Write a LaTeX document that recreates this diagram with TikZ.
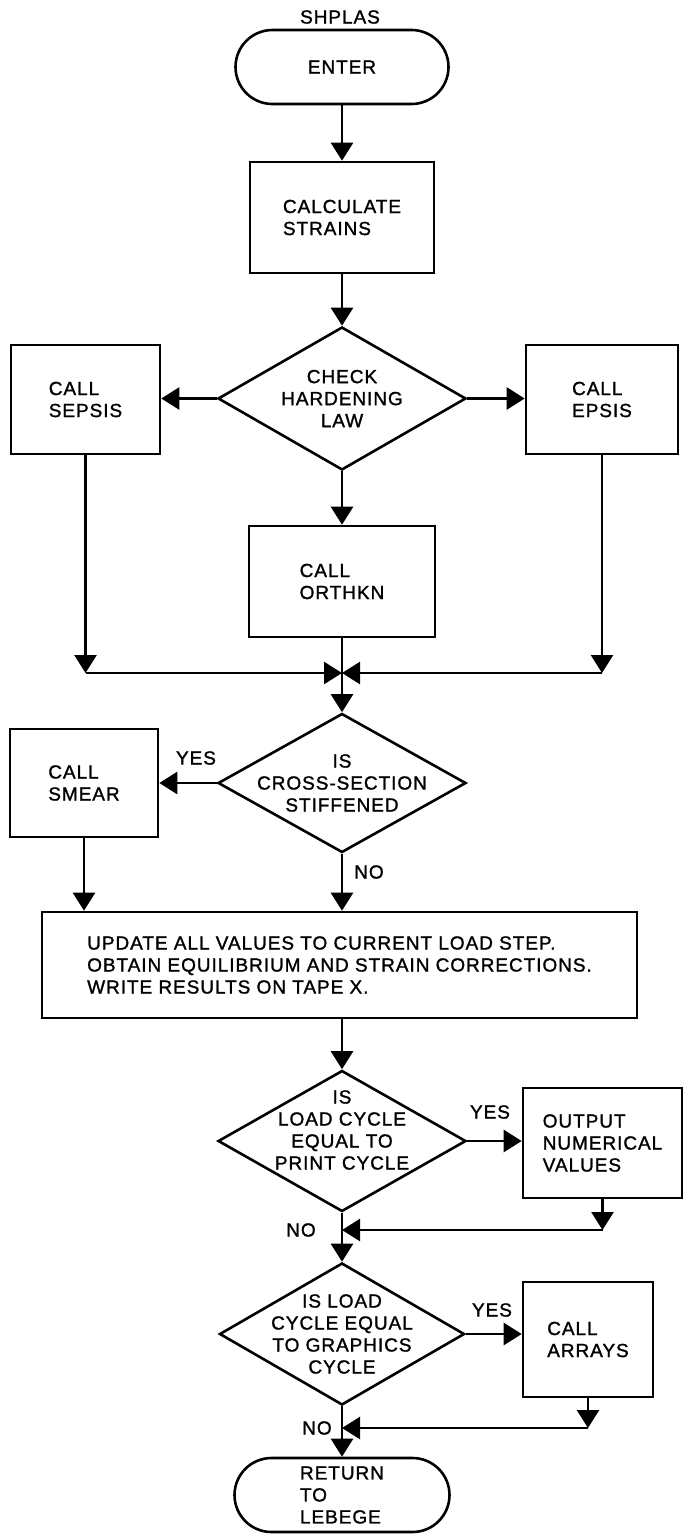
\documentclass[tikz,border=0pt]{standalone}
\usepackage{fontspec}
\setmainfont{Liberation Sans}[LetterSpace=5, FakeBold=1.3]
\usetikzlibrary{arrows.meta}
\usetikzlibrary{shapes.geometric}

\tikzset{
  box/.style={draw, rectangle, line width=2.6pt, align=left},
  term/.style={draw, rectangle, rounded corners=37pt, line width=2.6pt, minimum height=74pt, align=left},
  decision/.style={draw, diamond, line width=2.6pt, minimum width=248pt, inner sep=0pt},
  flow/.style={line width=2.6pt, -{Triangle[length=18pt,width=22pt]}},
  note/.style={inner sep=0pt}
}

\begin{document}
\begin{tikzpicture}[x=1pt, y=-1pt, font=\fontsize{19}{22}\selectfont]
    \useasboundingbox (0,0) rectangle (684,1534);

    % top part
    \node[note] (title) at (340,17) {SHPLAS};
    \node[term, minimum width=213pt] (enter) at (342,67) {ENTER};
    \node[box, minimum width=184pt, minimum height=111pt] (calc) at (342,217.5) {CALCULATE\\STRAINS};
    \node[decision, minimum height=143pt, label={[align=center]center:{CHECK\\HARDENING\\LAW}}] (hard) at (342,398.5) {};
    \node[box, minimum width=149pt, minimum height=109pt] (sepsis) at (85.5,399.5) {CALL\\SEPSIS};
    \node[box, minimum width=152pt, minimum height=109pt] (epsis) at (602,399.5) {CALL\\EPSIS};
    \node[box, minimum width=186pt, minimum height=111pt] (orthkn) at (342,581.5) {CALL\\ORTHKN};
    \coordinate (jn) at (342,673);

    \draw[flow] (enter) -- (calc);
    \draw[flow] (calc) -- (hard);
    \draw[flow] (hard.west) -- (hard.west -| sepsis.east);
    \draw[flow] (hard.east) -- (hard.east -| epsis.west);
    \draw[flow] (hard) -- (orthkn);
    \draw[flow] (sepsis) -- (sepsis |- jn);
    \draw[flow] (sepsis |- jn) -- (jn);
    \draw[flow] (epsis) -- (epsis |- jn);
    \draw[flow] (epsis |- jn) -- (jn);

    % stiffened?
    \node[decision, minimum height=139pt, label={[align=center]center:{IS\\CROSS-SECTION\\STIFFENED}}] (cross) at (342,783) {};
    \node[box, minimum width=148pt, minimum height=108pt] (smear) at (84,783) {CALL\\SMEAR};
    \node[box, minimum width=595pt, minimum height=106pt] (update) at (339.5,965)
        {UPDATE ALL VALUES TO CURRENT LOAD STEP.\\OBTAIN EQUILIBRIUM AND STRAIN CORRECTIONS.\\WRITE RESULTS ON TAPE X.};

    \draw[flow] (orthkn) -- (cross);
    \draw[flow] (cross.west) -- (cross.west -| smear.east);
    \node[note] (yes1) at (196,758) {YES};
    \draw[flow] (smear) -- (smear |- update.north);
    \draw[flow] (cross) -- (cross |- update.north);
    \node[note] (no1) at (369,872) {NO};

    % print cycle
    \node[decision, minimum height=141pt, label={[align=center, yshift=11pt]center:{IS\\LOAD CYCLE\\EQUAL TO\\PRINT CYCLE}}] (print) at (342,1141) {};
    \node[box, minimum width=159pt, minimum height=110pt] (output) at (602.5,1143) {OUTPUT\\NUMERICAL\\VALUES};
    \coordinate (j2) at (342,1230);

    \draw[flow] (update.south -| print.north) -- (print);
    \draw[flow] (print.east) -- (print.east -| output.west);
    \node[note] (yes2) at (490,1112) {YES};
    \draw[flow] (output) -- (output |- j2);
    \draw[flow] (output |- j2) -- (j2);
    \node[note] (no2) at (301,1230) {NO};

    % graphics cycle
    \node[decision, minimum width=245pt, minimum height=142pt, label={[align=center]center:{IS LOAD\\CYCLE EQUAL\\TO GRAPHICS\\CYCLE}}] (graph) at (342,1334) {};
    \node[box, minimum width=130pt, minimum height=115pt] (arrays) at (588,1339.5) {CALL\\ARRAYS};
    \coordinate (j3) at (342,1428);
    \node[term, minimum width=215pt] (return) at (342,1495) {RETURN\\TO\\LEBEGE};

    \draw[flow] (print) -- (graph);
    \draw[flow] (graph.east) -- (graph.east -| arrays.west);
    \node[note] (yes3) at (492,1310) {YES};
    \draw[flow] (arrays) -- (arrays |- j3);
    \draw[flow] (arrays |- j3) -- (j3);
    \node[note] (no3) at (317,1428) {NO};
    \draw[flow] (graph) -- (return);
\end{tikzpicture}
\end{document}
